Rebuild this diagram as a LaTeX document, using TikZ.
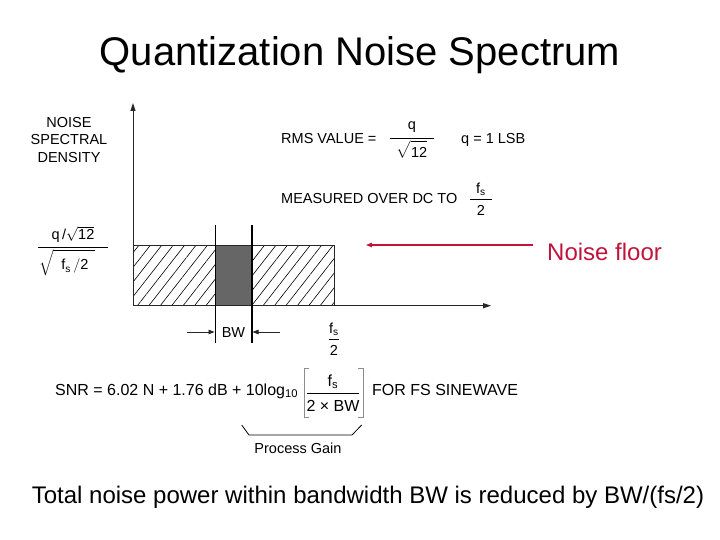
\documentclass[tikz,border=0pt]{standalone}
\usepackage{amsmath}
\usepackage{fontspec}
\setmainfont{Liberation Sans}
\usetikzlibrary{arrows.meta,patterns.meta,calc}
\definecolor{floorred}{HTML}{C0143C}
\definecolor{bandgray}{HTML}{666666}

\begin{document}
\begin{tikzpicture}[x=1pt,y=-1pt,
  diag/.style={font=\fontsize{14.5}{17}\selectfont,inner sep=0pt},
  eqn/.style={font=\fontsize{16}{19}\selectfont,inner sep=0pt},
  slide/.style={font=\fontsize{24}{28}\selectfont,inner sep=0pt},
  axisline/.style={line width=0.9pt,black!85,-{Triangle[length=8pt,width=5pt]}},
  bwarrow/.style={line width=0.7pt,black!85,-{Triangle[length=6pt,width=4.5pt]}},
  floorarrow/.style={line width=1.2pt,floorred,-{Triangle[length=6pt,width=4.5pt]}}]
  \useasboundingbox (0,0) rectangle (720,540);
  \node[font=\fontsize{40}{44}\selectfont,inner sep=0pt] (title) at (360,55) {Quantization Noise Spectrum};

  % axes and noise floor
  \coordinate (O) at (133,305.7);
  \coordinate (ytip) at (133,103);
  \coordinate (xtip) at (491,305.7);
  \coordinate (floorTL) at (133,245.5);
  \coordinate (floorBR) at (334,305.7);
  \fill[pattern={Lines[angle=52,distance=9pt,line width=0.6pt]}] (floorTL) rectangle (floorBR);
  \fill[bandgray] (215,245.5) rectangle (252,305.7);
  \draw[line width=0.8pt,black!85] (floorTL) -- (floorTL -| floorBR) -- (floorBR);
  \draw[axisline] (O) -- (ytip);
  \draw[axisline] (O) -- (xtip);

  % band edges and BW
  \draw[line width=0.8pt] (215,225) -- (215,343);
  \draw[line width=1.8pt] (252,225) -- (252,343);
  \node[diag] (bw) at (233.5,333) {BW};
  \coordinate (bwL) at (187,332);
  \coordinate (bwR) at (280,332);
  \draw[bwarrow] (bwL) -- (214.5,332);
  \draw[bwarrow] (bwR) -- (252.5,332);
  \node[diag] (half) at (334,339) {$\dfrac{\text{f}_{\text{s}}}{\rule{0pt}{14pt}\text{2}}$};

  % labels
  \node[diag,align=center,font=\fontsize{14.5}{17.5}\selectfont] (nsd) at (69,140) {NOISE\\SPECTRAL\\DENSITY};
  \node[diag] (level) at (73,251) {$\dfrac{\makebox[70pt]{\text{q}\,/$\sqrt{\text{12}}$}\rule[-5pt]{0pt}{5pt}}{\makebox[70pt][l]{\hspace{1pt}$\sqrt{\rule{0pt}{17pt}\hspace{8pt}\text{f}_{\text{s}}\,/\text{2}\hspace{6pt}}$}}$};
  \node[diag,anchor=west] (rms) at (281,139) {RMS VALUE =};
  \node[diag] (rmsfrac) at (412,140) {$\dfrac{\text{q}\rule[-6pt]{0pt}{6pt}}{\makebox[44pt]{$\sqrt{\rule{0pt}{15pt}\text{12}}$}}$};
  \node[diag,anchor=west] (lsb) at (461,140) {q = 1 LSB};
  \node[diag,anchor=west] (meas) at (281,199) {MEASURED OVER DC TO};
  \node[diag] (measfrac) at (481,199) {$\dfrac{\text{f}_{\text{s}}}{\makebox[22pt]{\rule{0pt}{14pt}\text{2}}}$};

  % noise floor pointer
  \node[slide,floorred,anchor=west] (floor) at (547,252) {Noise floor};
  \coordinate (floorstart) at (533,245);
  \coordinate (floorend) at (366,245);
  \draw[floorarrow] (floorstart) -- (floorend);

  % SNR equation
  \node[eqn,anchor=west] (snr) at (55,391) {SNR = 6.02 N + 1.76 dB + 10log$_{\text{10}}$};
  \node[eqn] (gain) at (333,393) {$\dfrac{\text{f}_{\text{s}}\rule[-3pt]{0pt}{3pt}}{\rule{0pt}{15pt}\text{2 × BW}}$};
  \draw[line width=0.8pt,black!45] (309,368) -- (304,368) -- (304,417) -- (309,417);
  \draw[line width=0.8pt,black!45] (358,368) -- (363,368) -- (363,417) -- (358,417);
  \node[eqn,anchor=west] (sine) at (372,390) {FOR FS SINEWAVE};
  \draw[line width=0.8pt] (241.7,425) -- (249,435) -- (352,435) -- (361.7,425);
  \node[diag] (pg) at (298,448) {Process Gain};

  \node[slide] (caption) at (368,497) {Total noise power within bandwidth BW is reduced by BW/(fs/2)};
\end{tikzpicture}
\end{document}
